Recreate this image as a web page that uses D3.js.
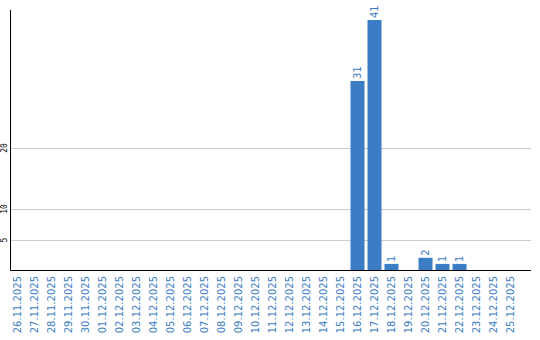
<!DOCTYPE html>
<html>
<head>
<meta charset="utf-8">
<script src="https://cdn.jsdelivr.net/npm/d3@7"></script>
<style>
    body { margin: 0; background: #fff; }
    svg { display: block; }
</style>
</head>
<body>
<svg id="chart" width="540" height="340"></svg>
<script>
/**
 * Data.
 */
const dates = [
    '26.11.2025', '27.11.2025', '28.11.2025', '29.11.2025', '30.11.2025',
    '01.12.2025', '02.12.2025', '03.12.2025', '04.12.2025', '05.12.2025',
    '06.12.2025', '07.12.2025', '08.12.2025', '09.12.2025', '10.12.2025',
    '11.12.2025', '12.12.2025', '13.12.2025', '14.12.2025', '15.12.2025',
    '16.12.2025', '17.12.2025', '18.12.2025', '19.12.2025', '20.12.2025',
    '21.12.2025', '22.12.2025', '23.12.2025', '24.12.2025', '25.12.2025'
];
const counts = [
    0, 0, 0, 0, 0,
    0, 0, 0, 0, 0,
    0, 0, 0, 0, 0,
    0, 0, 0, 0, 0,
    31, 41, 1, 0, 2,
    1, 1, 0, 0, 0
];
const yTicks = [5, 10, 20];

/**
 * Visual configs.
 */
const barColor = '#3b7dc4',
    labelColor = '#3b7dc4',
    plotLeft = 10.5, plotRight = 531,
    plotTop = 10, plotBottom = 270;

const data = dates.map((d, i) => ({ date: d, value: counts[i] }));

const svg = d3.select('#chart');

/**
 * D3.
 */
const step = 17, innerPad = 3 / step;
const xScale = d3.scaleBand()
    .domain(dates)
    .range([9, 9 + step * dates.length])
    .paddingInner(innerPad)
    .paddingOuter(innerPad / 2);

const yScale = d3.scaleLinear()
    .domain([0, d3.max(counts) * 1.04])
    .range([plotBottom, plotTop]);

// Gridlines
svg.append('g').attr('class', 'grid')
    .selectAll('line').data(yTicks).enter().append('line')
    .attr('x1', plotLeft)
    .attr('x2', plotRight)
    .attr('y1', d => Math.round(yScale(d)) + 0.5)
    .attr('y2', d => Math.round(yScale(d)) + 0.5)
    .attr('stroke', '#cccccc')
    .attr('stroke-width', 1);

// Y tick labels, rotated
svg.append('g').attr('class', 'y-labels')
    .selectAll('text').data(yTicks).enter().append('text')
    .attr('transform', d => 'translate(7,' + Math.round(yScale(d)) + ') rotate(-90)')
    .attr('text-anchor', 'middle')
    .attr('font-family', 'DejaVu Sans Mono, monospace')
    .attr('font-size', 8)
    .attr('fill', '#000')
    .text(d => d);

// Bars
const nonZero = data.filter(d => d.value > 0);
svg.append('g').attr('class', 'bars')
    .selectAll('rect').data(nonZero).enter().append('rect')
    .attr('x', d => xScale(d.date))
    .attr('y', d => yScale(d.value))
    .attr('width', xScale.bandwidth())
    .attr('height', d => plotBottom - yScale(d.value))
    .attr('fill', barColor);

// Value labels above bars
svg.append('g').attr('class', 'values')
    .selectAll('text').data(nonZero).enter().append('text')
    .attr('transform', d => 'translate(' + (xScale(d.date) + xScale.bandwidth() / 2 + 3.5) + ','
        + (yScale(d.value) - 2) + ') rotate(-90)')
    .attr('text-anchor', 'start')
    .attr('font-family', 'DejaVu Sans, sans-serif')
    .attr('font-size', 10)
    .attr('fill', labelColor)
    .text(d => d.value);

// Axes lines
svg.append('line')
    .attr('x1', plotLeft).attr('x2', plotLeft)
    .attr('y1', plotTop).attr('y2', plotBottom + 0.5)
    .attr('stroke', '#000').attr('stroke-width', 1);
svg.append('line')
    .attr('x1', plotLeft).attr('x2', plotRight)
    .attr('y1', plotBottom + 0.5).attr('y2', plotBottom + 0.5)
    .attr('stroke', '#000').attr('stroke-width', 1.2);

// X labels, rotated
svg.append('g').attr('class', 'x-labels')
    .selectAll('text').data(dates).enter().append('text')
    .attr('transform', d => 'translate(' + (xScale(d) + xScale.bandwidth() / 2 + 3.5) + ',' + (plotBottom + 6) + ') rotate(-90)')
    .attr('text-anchor', 'end')
    .attr('font-family', 'DejaVu Sans, sans-serif')
    .attr('font-size', 10)
    .attr('fill', labelColor)
    .text(d => d);
</script>
</body>
</html>
